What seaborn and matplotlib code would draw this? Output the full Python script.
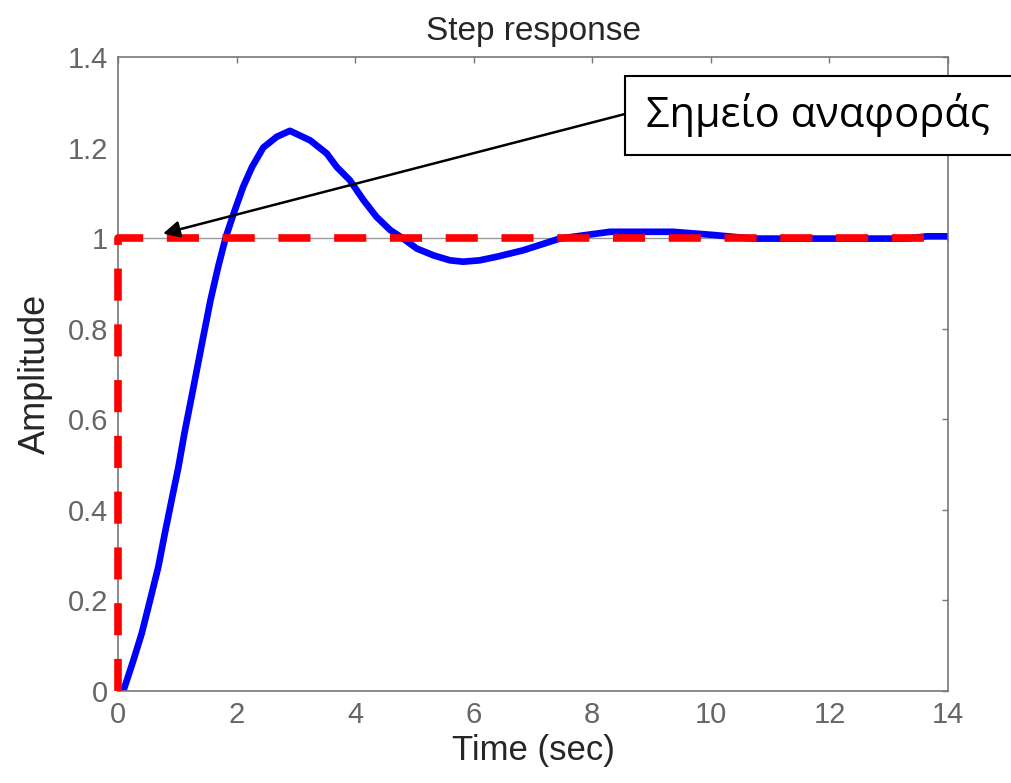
import numpy as np
import pandas as pd
import seaborn as sns
import matplotlib.pyplot as plt
from matplotlib.patches import Rectangle

# step response
time_sec = [0.0, 0.09, 0.26, 0.40, 0.54, 0.68, 0.79, 0.905, 1.02, 1.12, 1.23,
            1.34, 1.45, 1.56, 1.69, 1.82, 1.95, 2.11, 2.26, 2.45, 2.68, 2.90,
            3.24, 3.52, 3.69, 3.91, 4.14, 4.36, 4.59, 4.81, 5.04, 5.32, 5.60,
            5.82, 6.10, 6.39, 6.83, 7.45, 7.90, 8.30, 9.36, 10.04, 10.71,
            13.30, 13.64, 14.0]
amplitude = [0.0, 0.0, 0.068, 0.127, 0.20, 0.274, 0.348, 0.422, 0.495, 0.569,
             0.642, 0.716, 0.79, 0.863, 0.937, 1.003, 1.054, 1.113, 1.157,
             1.20, 1.224, 1.237, 1.216, 1.187, 1.157, 1.128, 1.084, 1.047,
             1.018, 0.999, 0.977, 0.962, 0.951, 0.948, 0.951, 0.959, 0.973,
             0.999, 1.007, 1.014, 1.014, 1.007, 0.999, 0.999, 1.004, 1.004]

# reference (set point) step
ref_time = [0.0, 0.0, 14.0]
ref_value = [0.0, 1.0, 1.0]
final_value = 1.0

xticks = [0, 2, 4, 6, 8, 10, 12, 14]
yticks = [0, 0.2, 0.4, 0.6, 0.8, 1, 1.2, 1.4]
ytick_labels = ['0', '0.2', '0.4', '0.6', '0.8', '1', '1.2', '1.4']

resp = pd.DataFrame({'t': time_sec, 'y': amplitude})
ref = pd.DataFrame({'t': ref_time, 'y': ref_value})

sns.set_style('white')
plt.rcParams['font.family'] = ['Liberation Sans', 'DejaVu Sans']

W, H = 1012, 783
fig = plt.figure(figsize=(W / 100, H / 100), dpi=100)
ax = fig.add_axes([0.1166, 0.1175, 0.8202, 0.8097])

ax.axhline(final_value, color='#999999', lw=1.0, zorder=1)
sns.lineplot(data=resp, x='t', y='y', ax=ax, color='#0000ff', lw=4.8,
             sort=False, estimator=None, zorder=2)
sns.lineplot(data=ref, x='t', y='y', ax=ax, color='#ff0000', lw=5.5,
             sort=False, estimator=None, zorder=3,
             linestyle=(0, (4.2, 3.1)))
ax.lines[-1].set_clip_on(False)

ax.set_xlim(0, 14)
ax.set_ylim(0, 1.4)
ax.set_xticks(xticks)
ax.set_yticks(yticks)
ax.set_yticklabels(ytick_labels)
ax.tick_params(direction='in', length=4, width=1, color='#777777',
               labelcolor='#666666', labelsize=21, pad=7,
               top=True, right=True)
for s in ax.spines.values():
    s.set_color('#777777')
    s.set_linewidth(1.2)

ax.set_title('Step response', fontsize=24, pad=12)
ax.set_xlabel('Time (sec)', fontsize=25, labelpad=4)
ax.set_ylabel('Amplitude', fontsize=26, labelpad=11)

# text box (runs off the right edge, like the original)
fig.patches.append(Rectangle((625 / W, 1 - 155 / H), 420 / W, 79 / H,
                             transform=fig.transFigure, fc='white',
                             ec='black', lw=1.5, zorder=5))
fig.text(646 / W, 1 - 115 / H, 'Σημείο αναφοράς', ha='left', va='center',
         fontsize=30, family='Open Sans', color='black', zorder=6)
ax.annotate('', xy=(0.76, 1.01), xycoords='data',
            xytext=(625 / W, 1 - 114 / H), textcoords='figure fraction',
            arrowprops=dict(arrowstyle='-|>', color='black', lw=1.8,
                            mutation_scale=25, shrinkA=0, shrinkB=0),
            annotation_clip=False)

fig.savefig('out.png', dpi=100)
